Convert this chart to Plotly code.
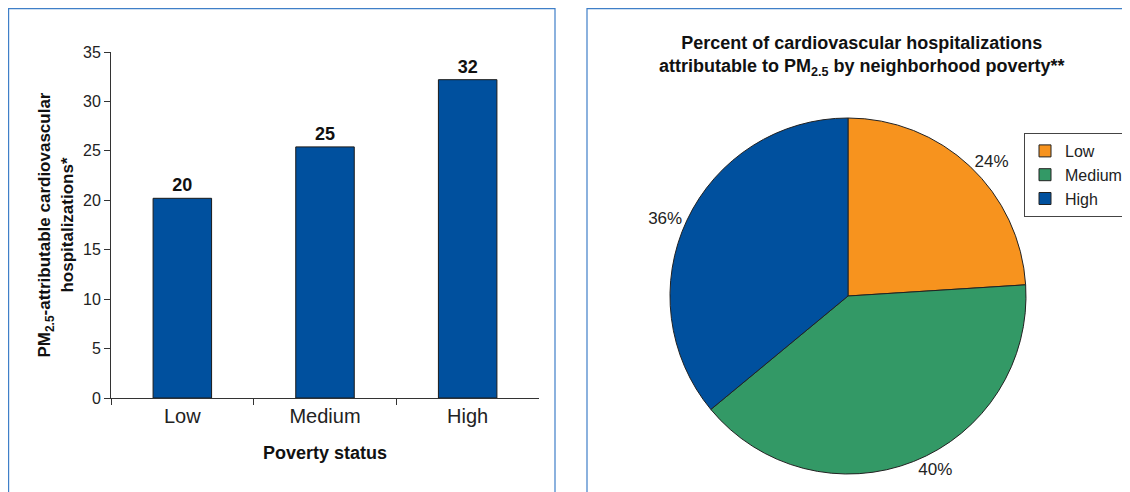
import plotly.graph_objects as go

# Bar panel data
categories = ['Low', 'Medium', 'High']
attributable = [20.2, 25.4, 32.2]
y_ticks = [0, 5, 10, 15, 20, 25, 30, 35]

# Pie panel data
pie_labels = ['Low', 'Medium', 'High']
pie_percent = [24, 40, 36]
pie_colors = ['#F7931E', '#339966', '#00509E']

FONT = 'Liberation Sans, Arial, Helvetica, sans-serif'
W, H = 1130, 492
OFF = 8  # page body margin, positions below are given in screen pixels


def fx(x):
    return (x - OFF) / W


def fy(y):
    return 1 - (y - OFF) / H


fig = go.Figure()

fig.add_trace(go.Bar(
    x=categories, y=attributable, width=0.41,
    marker=dict(color='#00509E', line=dict(color='#1a1a1a', width=1)),
    texttemplate='<b>%{y:.0f}</b>', textposition='outside',
    textfont=dict(family=FONT, size=18, color='#111'),
    cliponaxis=False, showlegend=False,
))

fig.add_trace(go.Pie(
    labels=pie_labels, values=pie_percent, sort=False, direction='clockwise', rotation=0,
    marker=dict(colors=pie_colors, line=dict(color='#222', width=1)),
    texttemplate='%{value}%', textposition='outside',
    outsidetextfont=dict(family=FONT, size=17, color='#222'),
    domain=dict(x=[fx(670), fx(1026)], y=[fy(474), fy(118)]),
    hoverinfo='label+percent',
))

fig.update_layout(
    width=W, height=H, margin=dict(l=0, r=0, t=0, b=0, autoexpand=False),
    paper_bgcolor='white', plot_bgcolor='white',
    xaxis=dict(domain=[fx(111), fx(539)], showline=True, linecolor='#333', linewidth=1,
               ticks='outside', tickson='boundaries', ticklen=6, tickcolor='#333',
               tickfont=dict(family=FONT, size=20, color='#222'), automargin=False,
               title=dict(text='<b>Poverty status</b>', font=dict(family=FONT, size=18, color='#111'), standoff=20)),
    yaxis=dict(domain=[fy(398), fy(52)], range=[0, 35], tickvals=y_ticks,
               showline=True, linecolor='#333', linewidth=1, showgrid=False, zeroline=False,
               ticks='outside', ticklen=6, tickcolor='#333', automargin=False,
               tickfont=dict(family=FONT, size=16, color='#222'),
               title=dict(text='<b>PM<sub>2.5</sub>-attributable cardiovascular<br>hospitalizations*</b>',
                          font=dict(family=FONT, size=17, color='#111'), standoff=5)),
    legend=dict(x=fx(1024), y=fy(133), xanchor='left', yanchor='top',
                bordercolor='#444', borderwidth=1, bgcolor='white',
                font=dict(family=FONT, size=16, color='#222'), tracegroupgap=0),
    annotations=[dict(
        text='<b>Percent of cardiovascular hospitalizations<br>attributable to PM<sub>2.5</sub> by neighborhood poverty**</b>',
        x=fx(862), y=fy(31), xref='paper', yref='paper', xanchor='center', yanchor='top',
        showarrow=False, font=dict(family=FONT, size=18, color='#111'),
    )],
    shapes=[
        dict(type='rect', xref='paper', yref='paper', x0=0.6 / W, x1=fx(555), y0=-0.1, y1=1 - 0.6 / H,
             line=dict(color='#3F7FC8', width=1.2)),
        dict(type='rect', xref='paper', yref='paper', x0=fx(587), x1=1.1, y0=-0.1, y1=1 - 0.6 / H,
             line=dict(color='#3F7FC8', width=1.2)),
    ],
)

fig.write_html('out.html')
